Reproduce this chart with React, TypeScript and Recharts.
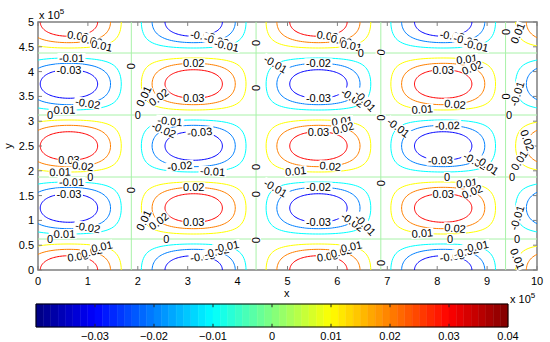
import { LineChart, Line, XAxis, YAxis, ReferenceLine, ReferenceDot, ReferenceArea, ComposedChart } from 'recharts';

// field (x and y in units of 1e5)
const cellX = [0.62, 3.12, 5.62, 8.12, 10.62];
const cellY = [0, 1.25, 2.5, 3.75, 5];
const zeroX = [1.87, 4.37, 6.87, 9.37];
const zeroY = [0.625, 1.875, 3.125, 4.375];
const peak = 0.04;
const periodX = 5;
const periodY = 2.5;

const levels = [-0.03, -0.02, -0.01, 0.01, 0.02, 0.03];
const levelColors = ['#0000ff', '#0080ff', '#00ffff', '#ffff00', '#ff8000', '#ff0000'];
const zeroColor = '#a8f2a8';

const xTicks = [0, 1, 2, 3, 4, 5, 6, 7, 8, 9, 10];
const yTicks = [0, 0.5, 1, 1.5, 2, 2.5, 3, 3.5, 4, 4.5, 5];
const cbTicks = [-0.03, -0.02, -0.01, 0, 0.01, 0.02, 0.03, 0.04];

// contour labels: [column, level, position along contour, upper half?]
// rows at y = 1.25 and 3.75
const oddRowLabels = [
  [0, -0.01, 0.05, 1], [0, -0.03, 0, 1], [0, -0.02, 0.47, 0], [0, -0.01, -0.12, 0],
  [1, 0.02, 0, 1], [1, 0.03, 0, 0], [1, 0.02, -1.0, 0], [1, 0.01, -1.27, 0],
  [2, -0.02, 0, 1], [2, -0.03, 0, 0], [2, -0.02, 0.96, 0], [2, -0.01, 1.11, 0], [2, -0.01, -0.96, 1],
  [3, 0.03, 0, 1], [3, 0.01, 0.47, 1], [3, 0.02, 0.77, 1], [3, 0.01, -0.41, 0], [3, 0.02, 0.29, 0],
  [4, -0.01, -1.34, 0],
];
// row at y = 2.5
const midRowLabels = [
  [0, 0.03, 0, 0], [0, 0.02, 0.34, 0], [0, 0.01, -0.17, 0],
  [1, -0.01, -0.47, 1], [1, -0.02, -0.8, 1], [1, -0.03, 0.21, 1], [1, -0.02, -0.34, 0], [1, -0.01, 0.37, 0],
  [2, 0.01, 0.47, 1], [2, 0.02, 0.64, 1], [2, 0.03, 0, 1], [2, 0.01, -0.45, 0], [2, 0.02, 0.29, 0],
  [3, -0.01, -1.03, 1], [3, -0.02, 0.1, 1], [3, -0.03, -0.1, 0], [3, -0.02, 0.88, 0], [3, -0.01, 1.0, 0],
  [4, 0.02, -1.35, 1], [4, 0.01, -1.2, 0],
];
// rows at y = 0 and 5: position by |level| 0.03, 0.02, 0.01
const edgeRowLevels = [0.03, 0.02, 0.01];
const edgeRowPhi = [0.32, 0.58, 0.68];

// "0" labels on the zero contours: x, y, rotation
const zeroLabels = [
  { x: 1.87, y: 4.11, r: 90 },
  { x: 2.0, y: 3.125, r: 0 },
  { x: 4.37, y: 4.58, r: 90 },
  { x: 4.37, y: 3.67, r: 90 },
  { x: 0.24, y: 3.125, r: 0 },
  { x: 1.05, y: 1.875, r: 0 },
  { x: 1.87, y: 1.61, r: 90 },
  { x: 2.57, y: 0.625, r: 0 },
  { x: 4.37, y: 2.08, r: 90 },
  { x: 4.37, y: 1.53, r: 90 },
  { x: 4.37, y: 0.6, r: 90 },
  { x: 0.24, y: 0.625, r: 0 },
  { x: 6.87, y: 4.39, r: 80 },
  { x: 6.47, y: 4.375, r: 0 },
  { x: 6.87, y: 3.07, r: 90 },
  { x: 9.37, y: 4.8, r: 90 },
  { x: 9.37, y: 3.5, r: 90 },
  { x: 9.44, y: 3.125, r: 0 },
  { x: 6.87, y: 1.75, r: 90 },
  { x: 8.2, y: 1.875, r: 0 },
  { x: 9.5, y: 1.875, r: 0 },
  { x: 8.26, y: 0.625, r: 0 },
  { x: 9.6, y: 0.625, r: 0 },
  { x: 6.87, y: 0.14, r: 90 },
];

const FONT = '"Liberation Sans", Arial, Helvetica, sans-serif';
const SX = 49.9; // px per unit, used only for label rotation
const SY = 49.6;

// point on the closed contour of `level` around the extremum (xc, yc)
function contourPoint(xc: number, yc: number, level: number, phi: number, upper: boolean) {
  const r = Math.abs(level) / peak;
  const a0 = Math.acos(r);
  const a = a0 * Math.sin(phi);
  const b = Math.acos(Math.min(1, r / Math.cos(a)));
  return {
    x: xc + (a * periodX) / (2 * Math.PI),
    y: yc + ((upper ? 1 : -1) * b * periodY) / (2 * Math.PI),
  };
}

function contour(xc: number, yc: number, level: number) {
  const n = 56;
  const up = [];
  const down = [];
  for (let k = 0; k <= n; k++) {
    const phi = -Math.PI / 2 + (Math.PI * k) / n;
    up.push(contourPoint(xc, yc, level, phi, true));
    down.push(contourPoint(xc, yc, level, phi, false));
  }
  return [...up, ...down.reverse()];
}

function labelAt(xc: number, yc: number, level: number, phi: number, upper: boolean) {
  const p = contourPoint(xc, yc, level, phi, upper);
  const p1 = contourPoint(xc, yc, level, phi - 0.03, upper);
  const p2 = contourPoint(xc, yc, level, phi + 0.03, upper);
  let ang = (Math.atan2(-(p2.y - p1.y) * SY, (p2.x - p1.x) * SX) * 180) / Math.PI;
  if (ang > 90) ang -= 180;
  if (ang < -90) ang += 180;
  return { x: p.x, y: p.y, r: ang, text: level.toFixed(2) };
}

const contours: { key: string; color: string; data: { x: number; y: number }[] }[] = [];
cellX.forEach((xc, i) => {
  cellY.forEach((yc, j) => {
    const sign = (i + j) % 2 === 0 ? 1 : -1;
    levels.forEach((lv, li) => {
      if (Math.sign(lv) !== sign) return;
      contours.push({ key: `c-${i}-${j}-${li}`, color: levelColors[li], data: contour(xc, yc, lv) });
    });
  });
});

const labels: { x: number; y: number; r: number; text: string }[] = [];
[1, 3].forEach((j) =>
  oddRowLabels.forEach(([i, lv, phi, up]) => labels.push(labelAt(cellX[i], cellY[j], lv, phi, up === 1)))
);
midRowLabels.forEach(([i, lv, phi, up]) => labels.push(labelAt(cellX[i], cellY[2], lv, phi, up === 1)));
[0, 4].forEach((j) => {
  cellX.forEach((xc, i) => {
    const sign = (i + j) % 2 === 0 ? 1 : -1;
    const last = i === cellX.length - 1;
    edgeRowLevels.forEach((m, k) => {
      if (last && m > 0.015) return;
      const phi = last ? -1.3 : edgeRowPhi[k];
      labels.push(labelAt(xc, cellY[j], sign * m, phi, j === 0));
    });
  });
});

const visibleLabels = labels.filter((l) => l.x > 0.2 && l.x < 9.85 && l.y > 0.12 && l.y < 4.9);

// jet colormap, 64 bands
function jet(t: number) {
  const c = (v: number) => Math.round(255 * Math.max(0, Math.min(1, v)));
  return `rgb(${c(1.5 - Math.abs(4 * t - 3))},${c(1.5 - Math.abs(4 * t - 2))},${c(1.5 - Math.abs(4 * t - 1))})`;
}
const bands = Array.from({ length: 64 }, (_, k) => ({
  x1: -0.04 + (k * 0.08) / 64,
  x2: -0.04 + ((k + 1) * 0.08) / 64,
  color: jet((k + 0.5) / 64),
}));
const cbRange = [
  { x: -0.04, y: 0 },
  { x: 0.04, y: 1 },
];

function TextTag(props: any) {
  const { cx, cy, text, rot } = props;
  if (cx == null || cy == null) return null;
  const w = text.length * 5.4 + 1;
  return (
    <g transform={`rotate(${-rot} ${cx} ${cy})`}>
      <rect x={cx - w / 2} y={cy - 5} width={w} height={10} fill="#fff" />
      <text x={cx} y={cy} textAnchor="middle" dominantBaseline="central" fontSize={11} fontFamily={FONT} fill="#000">
        {text}
      </text>
    </g>
  );
}

const fmtCb = (v: number) => (v < 0 ? '\u2212' + Math.abs(v).toFixed(2) : v === 0 ? '0' : v.toFixed(2));

export default function App() {
  return (
    <div style={{ position: 'absolute', left: 0, top: 0, width: 550, height: 342, background: '#fff', fontFamily: FONT }}>
      <div style={{ position: 'absolute', left: 0, top: 0 }}>
        <LineChart width={550} height={300} margin={{ top: 22, right: 13, bottom: 0, left: 0 }}>
          <XAxis
            type="number"
            dataKey="x"
            domain={[0, 10]}
            ticks={xTicks}
            interval={0}
            allowDataOverflow
            height={30}
            tickLine={false}
            axisLine={false}
            tickSize={2}
            tickMargin={5}
            tick={{ fontSize: 11, fill: '#000', fontFamily: FONT }}
          />
          <YAxis
            type="number"
            dataKey="y"
            domain={[0, 5]}
            ticks={yTicks}
            interval={0}
            allowDataOverflow
            width={38}
            tickLine={false}
            axisLine={false}
            tickSize={0}
            tickMargin={4}
            tick={{ fontSize: 11, fill: '#000', fontFamily: FONT }}
          />
          {zeroX.map((v) => (
            <ReferenceLine key={`zx${v}`} x={v} stroke={zeroColor} strokeWidth={1} />
          ))}
          {zeroY.map((v) => (
            <ReferenceLine key={`zy${v}`} y={v} stroke={zeroColor} strokeWidth={1} />
          ))}
          {contours.map((c) => (
            <Line
              key={c.key}
              data={c.data}
              dataKey="y"
              type="linear"
              stroke={c.color}
              strokeWidth={1}
              dot={false}
              activeDot={false}
              isAnimationActive={false}
            />
          ))}
          {xTicks.map((t) => (
            <ReferenceLine key={`tb${t}`} segment={[{ x: t, y: 0 }, { x: t, y: 0.08 }]} stroke="#808080" />
          ))}
          {xTicks.map((t) => (
            <ReferenceLine key={`tt${t}`} segment={[{ x: t, y: 5 }, { x: t, y: 4.92 }]} stroke="#808080" />
          ))}
          {yTicks.map((t) => (
            <ReferenceLine key={`tl${t}`} segment={[{ x: 0, y: t }, { x: 0.08, y: t }]} stroke="#808080" />
          ))}
          {yTicks.map((t) => (
            <ReferenceLine key={`tr${t}`} segment={[{ x: 10, y: t }, { x: 9.92, y: t }]} stroke="#808080" />
          ))}
          {visibleLabels.map((l, k) => (
            <ReferenceDot
              key={`l${k}`}
              x={l.x}
              y={l.y}
              r={0}
              shape={(p: any) => <TextTag cx={p.cx} cy={p.cy} text={l.text} rot={l.r} />}
            />
          ))}
          {zeroLabels.map((l, k) => (
            <ReferenceDot
              key={`z${k}`}
              x={l.x}
              y={l.y}
              r={0}
              shape={(p: any) => <TextTag cx={p.cx} cy={p.cy} text="0" rot={l.r} />}
            />
          ))}
          <ReferenceArea x1={0} x2={10} y1={0} y2={5} fill="none" stroke="#7f7f7f" strokeWidth={1.5} ifOverflow="visible" />
        </LineChart>
      </div>

      <div style={{ position: 'absolute', left: 0, top: 300 }}>
        <ComposedChart width={550} height={42} margin={{ top: 4, right: 42, bottom: 0, left: 36 }}>
          <XAxis
            type="number"
            dataKey="x"
            domain={[-0.04, 0.04]}
            ticks={cbTicks}
            interval={0}
            height={15}
            tickLine={false}
            axisLine={false}
            tickSize={0}
            tickMargin={5}
            tickFormatter={fmtCb}
            tick={{ fontSize: 11, fill: '#000', fontFamily: FONT }}
          />
          <YAxis type="number" dataKey="y" domain={[0, 1]} hide />
          <Line data={cbRange} dataKey="y" stroke="none" dot={false} activeDot={false} isAnimationActive={false} />
          {bands.map((b, k) => (
            <ReferenceArea key={k} x1={b.x1} x2={b.x2} y1={0} y2={1} fill={b.color} fillOpacity={1} stroke={b.color} strokeWidth={0.5} />
          ))}
          {cbTicks.slice(0, -1).map((t) => (
            <ReferenceLine key={`cb${t}`} segment={[{ x: t, y: 0 }, { x: t, y: 0.14 }]} stroke="#222" />
          ))}
          {cbTicks.slice(0, -1).map((t) => (
            <ReferenceLine key={`ct${t}`} segment={[{ x: t, y: 1 }, { x: t, y: 0.86 }]} stroke="#222" />
          ))}
          <ReferenceArea x1={-0.04} x2={0.04} y1={0} y2={1} fill="none" stroke="#000" strokeWidth={1} />
        </ComposedChart>
      </div>

      <div style={{ position: 'absolute', left: 39, top: 9, fontSize: 11, lineHeight: '12px' }}>
        x 10<span style={{ fontSize: 8, position: 'relative', top: -5 }}>5</span>
      </div>
      <div style={{ position: 'absolute', left: 510, top: 293, fontSize: 11, lineHeight: '12px' }}>
        x 10<span style={{ fontSize: 8, position: 'relative', top: -5 }}>5</span>
      </div>
      <div style={{ position: 'absolute', left: 284, top: 287, fontSize: 11, lineHeight: '12px' }}>x</div>
      <div
        style={{
          position: 'absolute',
          left: 5,
          top: 140,
          fontSize: 11,
          lineHeight: '12px',
          transform: 'rotate(-90deg)',
        }}
      >
        y
      </div>
    </div>
  );
}
